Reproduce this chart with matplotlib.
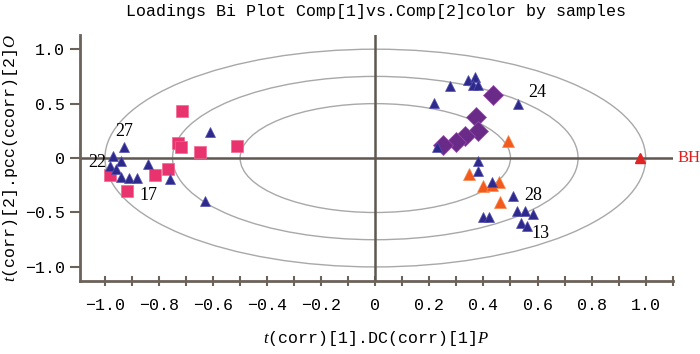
import matplotlib
matplotlib.use('Agg')
from matplotlib import pyplot as plt
from matplotlib.patches import Ellipse
import numpy as np

plt.rcParams['font.family'] = 'Liberation Mono'
plt.rcParams['mathtext.fontset'] = 'custom'
plt.rcParams['mathtext.it'] = 'Liberation Serif:italic'
plt.rcParams['mathtext.rm'] = 'Liberation Mono'

# samples (x = t(corr)[1], y = t(corr)[2])
pink_x = [-0.715, -0.73, -0.72, -0.648, -0.51, -0.765, -0.815, -0.92, -0.98]
pink_y = [0.43, 0.14, 0.10, 0.06, 0.11, -0.10, -0.16, -0.30, -0.16]

blue_x = [-0.61, -0.93, -0.97, -0.94, -0.98, -0.96, -0.84, -0.94, -0.91, -0.88, -0.76, -0.63,
          0.278, 0.218, 0.344, 0.367, 0.363, 0.38, 0.526, 0.23, 0.38, 0.38, 0.43, 0.51,
          0.40, 0.42, 0.525, 0.555, 0.585, 0.54, 0.56]
blue_y = [0.235, 0.10, 0.02, -0.03, -0.07, -0.10, -0.05, -0.17, -0.18, -0.18, -0.19, -0.39,
          0.66, 0.51, 0.72, 0.745, 0.67, 0.67, 0.50, 0.10, -0.03, -0.12, -0.22, -0.35,
          -0.54, -0.54, -0.49, -0.49, -0.51, -0.60, -0.62]

purple_x = [0.437, 0.374, 0.38, 0.33, 0.30, 0.25]
purple_y = [0.58, 0.38, 0.245, 0.20, 0.15, 0.12]

orange_x = [0.49, 0.345, 0.40, 0.456, 0.46, 0.43]
orange_y = [0.155, -0.145, -0.26, -0.22, -0.40, -0.25]

bh_x, bh_y = [0.98], [0.0]

labels = ['27', '22', '17', '24', '28', '13']
label_x = [-0.93, -1.03, -0.84, 0.60, 0.585, 0.61]
label_y = [0.24, -0.04, -0.345, 0.60, -0.345, -0.69]

radii = [1.0, 0.75, 0.5]

fig = plt.figure(figsize=(7, 3.54), dpi=100)
ax = fig.add_axes([0.114, 0.206, 0.847, 0.695])

for r in radii:
    ax.add_patch(Ellipse((0, 0), 2 * r, 2 * r, fill=False, edgecolor='#a8a8a8', lw=1.0, zorder=1))

ax.axhline(0, color='#5f5750', lw=1.8, zorder=2)
ax.axvline(0, color='#5f5750', lw=1.8, zorder=2)

ax.plot(pink_x, pink_y, 's', color='#e8336e', ms=8.5, mec='#f06a90', mew=0.5, zorder=3)
ax.plot(purple_x, purple_y, 'D', color='#6a2a88', ms=10, mec='#9a4ab0', mew=0.5, zorder=3)
ax.plot(orange_x, orange_y, '^', color='#f25a1e', ms=9, mec='#f58a50', mew=0.5, zorder=4)
ax.plot(blue_x, blue_y, '^', color='#2e2a8c', ms=6.5, mec='#5450b0', mew=0.5, zorder=5)
ax.plot(bh_x, bh_y, '^', color='#e02424', ms=6.5, zorder=5)

for t, x, y in zip(labels, label_x, label_y):
    ax.text(x, y, t, fontsize=13, family='Liberation Serif', ha='center', va='center', zorder=6)
ax.text(1.118, 0.0, 'BH', fontsize=12, family='Liberation Serif', color='#e02020',
        ha='left', va='center', clip_on=False)

ax.set_xlim(-1.093, 1.10)
ax.set_ylim(-1.13, 1.13)

ax.set_xticks(np.arange(-1.0, 1.01, 0.2))
ax.set_xticklabels(['\u22121.0', '\u22120.8', '\u22120.6', '\u22120.4', '\u22120.2', '0',
                    '0.2', '0.4', '0.6', '0.8', '1.0'])
ax.set_xticks(np.arange(-1.0, 1.11, 0.1), minor=True)
ax.set_yticks([-1.0, -0.5, 0, 0.5, 1.0])
ax.set_yticklabels(['\u22121.0', '\u22120.5', '0', '0.5', '1.0'])

for s in ['top', 'right']:
    ax.spines[s].set_visible(False)
for s in ['left', 'bottom']:
    ax.spines[s].set_color('#6b625a')
    ax.spines[s].set_linewidth(2)

ax.tick_params(axis='x', which='both', direction='inout', length=7, width=1.5,
               color='#6b625a', labelsize=12, pad=9)
ax.tick_params(axis='y', direction='out', length=7, width=1.5, color='#6b625a', labelsize=12)

ax.set_xlabel('$t$(corr)[1].DC(corr)[1]$P$', fontsize=12, labelpad=11)
ax.set_ylabel('$t$(corr)[2].pcc(ccorr)[2]$O$', fontsize=12, labelpad=4)
ax.set_title('Loadings Bi Plot Comp[1]vs.Comp[2]color by samples', fontsize=12, pad=14)

fig.savefig('out.png', dpi=100)
